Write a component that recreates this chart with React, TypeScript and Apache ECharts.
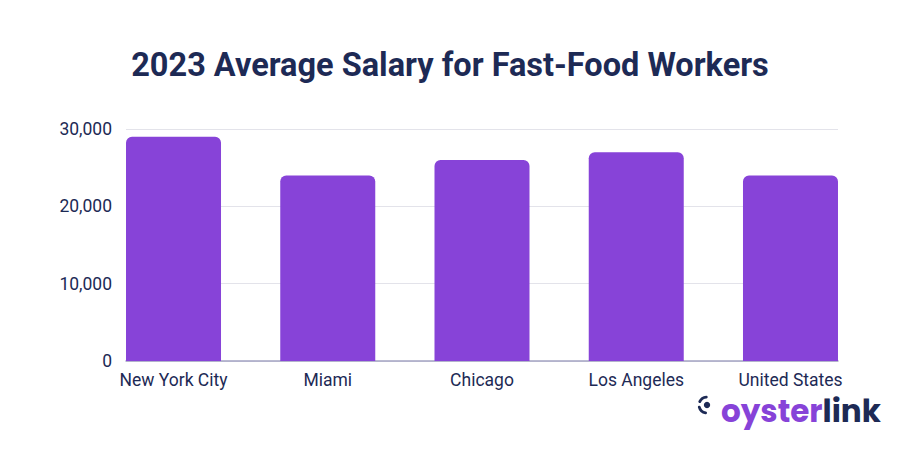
import React, { useEffect, useRef } from "react";
import * as echarts from "echarts";

const categories: string[] = ["New York City", "Miami", "Chicago", "Los Angeles", "United States"];
const salaries: number[] = [29000, 24000, 26000, 27000, 24000];
const yTicks: number[] = [0, 10000, 20000, 30000];
const titleText = "2023 Average Salary for Fast-Food Workers";

const NAVY = "#1d2a55";
const PURPLE = "#8743d8";

export default function App() {
  const ref = useRef<HTMLDivElement>(null);
  useEffect(() => {
    if (!ref.current) return;
    const chart = echarts.init(ref.current, null, { renderer: "svg" });
    const half = 95 / (2 * 154.2);
    chart.setOption({
      animation: false,
      backgroundColor: "#ffffff",
      title: {
        text: titleText,
        left: "center",
        top: 43,
        textStyle: {
          fontFamily: "Roboto",
          fontWeight: "bold",
          fontSize: 32.5,
          color: NAVY,
        },
      },
      grid: { left: 126, right: 62, top: 129, bottom: 89, containLabel: false },
      xAxis: {
        type: "value",
        min: -half,
        max: categories.length - 1 + half,
        axisLine: { show: true, onZero: false, lineStyle: { color: "#a3a3c2", width: 1.5 } },
        axisTick: { show: false },
        splitLine: { show: false },
        axisLabel: {
          customValues: categories.map((_, i) => i),
          formatter: (v: number) => categories[Math.round(v)] ?? "",
          fontFamily: "Roboto",
          fontSize: 17.5,
          color: NAVY,
          margin: 10,
        },
      },
      yAxis: {
        type: "value",
        min: 0,
        max: yTicks[yTicks.length - 1],
        interval: 10000,
        axisLine: { show: false },
        axisTick: { show: false },
        splitLine: { lineStyle: { color: "#e3e3ea", width: 1 } },
        axisLabel: {
          formatter: (v: number) => v.toLocaleString("en-US"),
          fontFamily: "Roboto",
          fontSize: 17.5,
          color: NAVY,
          margin: 14,
        },
      },
      series: [
        {
          type: "bar",
          data: salaries.map((v, i) => [i, v]),
          barWidth: 95,
          itemStyle: { color: PURPLE, borderRadius: [6, 6, 0, 0] },
        },
      ],
      graphic: [
        {
          type: "circle",
          shape: { cx: 707, cy: 405, r: 3.2 },
          style: { fill: NAVY },
        },
        {
          type: "arc",
          shape: { cx: 707, cy: 405, r: 8, startAngle: (-155 * Math.PI) / 180, endAngle: (-95 * Math.PI) / 180 },
          style: { stroke: NAVY, lineWidth: 2.8, fill: "none", lineCap: "round" },
        },
        {
          type: "arc",
          shape: { cx: 707, cy: 405, r: 8, startAngle: (100 * Math.PI) / 180, endAngle: (165 * Math.PI) / 180 },
          style: { stroke: NAVY, lineWidth: 2.8, fill: "none", lineCap: "round" },
        },
        {
          type: "text",
          left: 721,
          top: 395,
          style: {
            text: "{a|oyster}{b|link}",
            rich: {
              a: { fontFamily: "Poppins, Lato, Roboto", fontWeight: "bold", fontSize: 31, fill: PURPLE, color: PURPLE },
              b: { fontFamily: "Poppins, Lato, Roboto", fontWeight: "bold", fontSize: 31, fill: NAVY, color: NAVY },
            },
          },
        },
      ],
    });
    return () => chart.dispose();
  }, []);
  return <div ref={ref} style={{ width: 900, height: 450, position: "absolute", left: 0, top: 0 }} />;
}
